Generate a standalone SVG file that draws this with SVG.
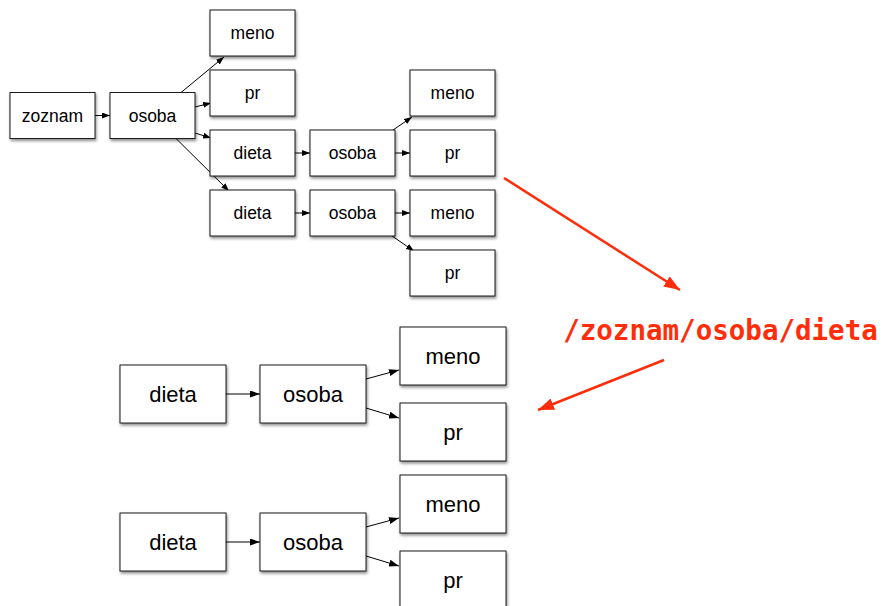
<svg xmlns="http://www.w3.org/2000/svg" width="884" height="606" viewBox="0 0 884 606">
<style>
.box{fill:#fff;stroke:#1a1a1a;stroke-width:1;filter:url(#sh)}
.t{font-family:"Liberation Sans",Arial,sans-serif;font-size:17.5px;fill:#000;text-anchor:middle}
.T{font-family:"Liberation Sans",Arial,sans-serif;font-size:22px;fill:#000;text-anchor:middle}
.c{fill:none;stroke:#000;stroke-width:1}
.cs{marker-end:url(#ah)}
.cb{marker-end:url(#ahb)}
.red{fill:none;stroke:#ff2d0a;stroke-width:2.5;marker-end:url(#ar)}
.path{font-family:"DejaVu Sans Mono","Liberation Mono",monospace;font-weight:bold;font-size:27.5px;fill:#ff2d0a;text-anchor:middle}
</style>
<defs>
<filter id="sh" x="-10%" y="-10%" width="130%" height="140%">
<feDropShadow dx="1" dy="2" stdDeviation="1.5" flood-color="#000" flood-opacity="0.45"/>
</filter>
<marker id="ah" markerUnits="userSpaceOnUse" markerWidth="8" markerHeight="6" refX="8" refY="3" orient="auto"><path d="M0,0 L8,3 L0,6 z" fill="#000"/></marker>
<marker id="ahb" markerUnits="userSpaceOnUse" markerWidth="10" markerHeight="7" refX="10" refY="3.5" orient="auto"><path d="M0,0 L10,3.5 L0,7 z" fill="#000"/></marker>
<marker id="ar" markerUnits="userSpaceOnUse" markerWidth="16" markerHeight="12" refX="16" refY="6" orient="auto"><path d="M0,0 L16,6 L0,12 z" fill="#ff2d0a"/></marker>
</defs>

<g id="connectors">
<path class="c cs" d="M95,115.5 L110,115.5"/>
<path class="c cs" d="M181,92.5 L224,57"/>
<path class="c cs" d="M195,107 L211,103"/>
<path class="c cs" d="M195,133 L211,138"/>
<path class="c cs" d="M176,138.5 L229,191"/>
<path class="c cs" d="M295,153 L310,153"/>
<path class="c cs" d="M393,130 L412,117"/>
<path class="c cs" d="M395,153 L410,153"/>
<path class="c cs" d="M295,213 L310,213"/>
<path class="c cs" d="M395,213 L410,213"/>
<path class="c cs" d="M392,236 L414,251"/>
<path class="c cb" d="M226,394 L260,394"/>
<path class="c cb" d="M366,379 L399,370"/>
<path class="c cb" d="M366,408 L399,418"/>
<path class="c cb" d="M226,542 L260,542"/>
<path class="c cb" d="M366,527 L399,518"/>
<path class="c cb" d="M366,556 L399,566"/>
<path class="red" d="M504,178 L680,290"/>
<path class="red" d="M664,360 L538,410"/>
</g>

<g id="n-zoznam"><rect class="box" x="10" y="92.5" width="85" height="46"/><text class="t" x="52.5" y="121.5">zoznam</text></g>
<g id="n-osoba"><rect class="box" x="110" y="92.5" width="85" height="46"/><text class="t" x="152.5" y="121.5">osoba</text></g>
<g id="n-meno1"><rect class="box" x="210" y="10" width="85" height="46"/><text class="t" x="252.5" y="39">meno</text></g>
<g id="n-pr1"><rect class="box" x="210" y="70" width="85" height="46"/><text class="t" x="252.5" y="99">pr</text></g>
<g id="n-dieta1"><rect class="box" x="210" y="130" width="85" height="46"/><text class="t" x="252.5" y="159">dieta</text></g>
<g id="n-dieta2"><rect class="box" x="210" y="190" width="85" height="46"/><text class="t" x="252.5" y="219">dieta</text></g>
<g id="n-osoba2"><rect class="box" x="310" y="130" width="85" height="46"/><text class="t" x="352.5" y="159">osoba</text></g>
<g id="n-osoba3"><rect class="box" x="310" y="190" width="85" height="46"/><text class="t" x="352.5" y="219">osoba</text></g>
<g id="n-meno2"><rect class="box" x="410" y="70" width="85" height="46"/><text class="t" x="452.5" y="99">meno</text></g>
<g id="n-pr2"><rect class="box" x="410" y="130" width="85" height="46"/><text class="t" x="452.5" y="159">pr</text></g>
<g id="n-meno3"><rect class="box" x="410" y="190" width="85" height="46"/><text class="t" x="452.5" y="219">meno</text></g>
<g id="n-pr3"><rect class="box" x="410" y="250" width="85" height="46"/><text class="t" x="452.5" y="279">pr</text></g>

<g id="n-b1-dieta"><rect class="box" x="120" y="365" width="106" height="58"/><text class="T" x="173" y="401.7">dieta</text></g>
<g id="n-b1-osoba"><rect class="box" x="260" y="365" width="106" height="58"/><text class="T" x="313" y="401.7">osoba</text></g>
<g id="n-b1-meno"><rect class="box" x="400" y="327" width="106" height="58"/><text class="T" x="453" y="363.7">meno</text></g>
<g id="n-b1-pr"><rect class="box" x="400" y="403" width="106" height="58"/><text class="T" x="453" y="439.7">pr</text></g>

<g id="n-b2-dieta"><rect class="box" x="120" y="513" width="106" height="58"/><text class="T" x="173" y="549.7">dieta</text></g>
<g id="n-b2-osoba"><rect class="box" x="260" y="513" width="106" height="58"/><text class="T" x="313" y="549.7">osoba</text></g>
<g id="n-b2-meno"><rect class="box" x="400" y="475" width="106" height="58"/><text class="T" x="453" y="511.7">meno</text></g>
<g id="n-b2-pr"><rect class="box" x="400" y="551" width="106" height="58"/><text class="T" x="453" y="587.7">pr</text></g>

<g id="label-xpath"><text class="path" x="720.5" y="340">/zoznam/osoba/dieta</text></g>
</svg>
